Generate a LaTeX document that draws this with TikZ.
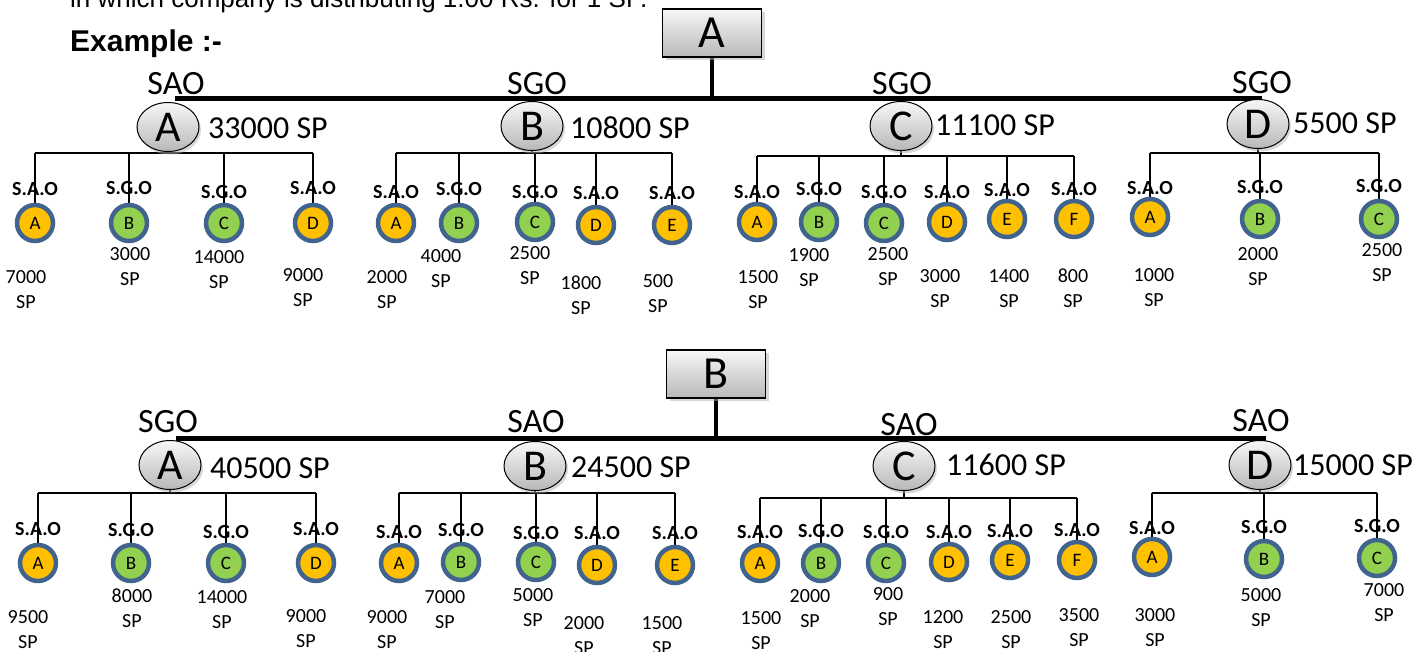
\documentclass[tikz,border=0pt]{standalone}
\usepackage{fontspec}
\setmainfont{Carlito}
\newfontfamily\arialf{Liberation Sans}
\usetikzlibrary{shapes.geometric,shadows}
\definecolor{kido}{HTML}{FFC000}
\definecolor{kidg}{HTML}{92D050}
\definecolor{kidring}{HTML}{41648E}
\pgfdeclarelayer{bg}
\pgfsetlayers{bg,main}
\tikzset{
  topbox/.style={draw=black, line width=1.2pt, minimum width=99pt, minimum height=48pt, inner sep=0pt,
    top color=black!3, bottom color=black!28,
    drop shadow={shadow xshift=3pt, shadow yshift=-3pt, fill=black!30},
    font=\fontsize{46}{46}\selectfont},
  mainell/.style={ellipse, draw=black, line width=1pt, minimum width=62pt, minimum height=49pt, inner sep=0pt,
    top color=black!3, bottom color=black!28,
    drop shadow={shadow xshift=2pt, shadow yshift=-3pt, fill=black!30},
    font=\fontsize{44}{44}\selectfont},
  kid/.style={ellipse, draw=kidring, line width=4.5pt, minimum width=36pt, minimum height=36pt, inner sep=0pt,
    font=\fontsize{19}{19}\selectfont},
  typel/.style={font=\bfseries\fontsize{20}{20}\selectfont, inner sep=0pt},
  vall/.style={align=center, font=\fontsize{20}{25}\selectfont, inner sep=0pt},
  levl/.style={font=\fontsize{34}{34}\selectfont, inner sep=0pt},
  spl/.style={font=\fontsize{32}{32}\selectfont, inner sep=0pt, anchor=west},
  conn/.style={draw=black, line width=1.3pt},
  trunk/.style={draw=black, line width=5pt},
  stem/.style={draw=black, line width=4pt}
}
\begin{document}
\begin{tikzpicture}[x=1pt,y=-1pt]
\useasboundingbox (0,0) rectangle (1415,652);

% header
\node[anchor=base west, font=\arialf\fontsize{26}{26}\selectfont, inner sep=0pt] (hdr) at (70,8) {in which company is distributing 1.00 Rs. for 1 SP.};
\node[anchor=base west, font=\arialf\bfseries\fontsize{30}{30}\selectfont, inner sep=0pt] (ex) at (70,52) {Example :-};

% ---------------- Tree A ----------------
\node[topbox] (boxA) at (712,33) {A};
\coordinate (t1L) at (175,99);
\coordinate (t1R) at (1262,99);
\node[mainell] (A1) at (168,127) {A};
\node[mainell] (B1) at (532,126) {B};
\node[mainell] (C1) at (901,126) {C};
\node[mainell] (D1) at (1258,124) {D};
\node[levl] (A1l) at (176,84) {SAO};
\node[levl] (B1l) at (537,84) {SGO};
\node[levl] (C1l) at (902,84) {SGO};
\node[levl] (D1l) at (1262,83) {SGO};
\node[spl] (A1v) at (208,128) {33000 SP};
\node[spl] (B1v) at (570,128) {10800 SP};
\node[spl] (C1v) at (935,125) {11100 SP};
\node[spl] (D1v) at (1293,123) {5500 SP};
\coordinate (b1a) at (0,153);
\coordinate (b1b) at (0,153);
\coordinate (b1c) at (0,156);
\coordinate (b1d) at (0,153);

% ---------------- Tree B ----------------
\node[topbox] (boxB) at (716,374) {B};
\coordinate (t2L) at (176,438);
\coordinate (t2R) at (1266,438);
\node[mainell] (A2) at (170,465) {A};
\node[mainell] (B2) at (535,466) {B};
\node[mainell] (C2) at (904,466) {C};
\node[mainell] (D2) at (1260,465) {D};
\node[levl] (A2l) at (168,422) {SGO};
\node[levl] (B2l) at (536,422) {SAO};
\node[levl] (C2l) at (909,425) {SAO};
\node[levl] (D2l) at (1261,421) {SAO};
\node[spl] (A2v) at (210,468) {40500 SP};
\node[spl] (B2v) at (571,467) {24500 SP};
\node[spl] (C2v) at (946,465) {11600 SP};
\node[spl] (D2v) at (1293,465) {15000 SP};
\coordinate (b2a) at (0,493);
\coordinate (b2b) at (0,493);
\coordinate (b2c) at (0,498);
\coordinate (b2d) at (0,493);

% children
\foreach \n/\x/\y/\ly/\c/\l/\t/\vx/\vy/\v in {
  p1aA/35/223/189/o/A/S.A.O/26/290/7000,
  p1aB/129/223/188/g/B/S.G.O/130/267/3000,
  p1aC/224/223/192/g/C/S.G.O/219/270/14000,
  p1aD/313/223/188/o/D/S.A.O/303/288/9000,
  p1bA/396/223/192/o/A/S.A.O/387/290/2000,
  p1bB/459/223/189/g/B/S.G.O/441/269/4000,
  p1bC/535/222/192/g/C/S.G.O/530/266/2500,
  p1bD/596/225/193/o/D/S.A.O/581/295/1800,
  p1bE/672/225/193/o/E/S.A.O/658/294/500,
  p1cA/757/222/192/o/A/S.A.O/758/290/1500,
  p1cB/819/222/189/g/B/S.G.O/809/268/1900,
  p1cC/884/223/192/g/C/S.G.O/888/267/2500,
  p1cD/947/222/192/o/D/S.A.O/940/289/3000,
  p1cE/1007/219/190/o/E/S.A.O/1009/289/1400,
  p1cF/1074/219/189/o/F/S.A.O/1073/288/800,
  p1dA/1150/217/188/o/A/S.A.O/1154/288/1000,
  p1dB/1260/219/187/g/B/S.G.O/1258/267/2000,
  p1dC/1379/219/186/g/C/S.G.O/1382/263/2500,
  p2aA/38/563/529/o/A/S.A.O/28/630/9500,
  p2aB/131/563/530/g/B/S.G.O/132/608/8000,
  p2aC/226/563/532/g/C/S.G.O/222/610/14000,
  p2aD/316/563/529/o/D/S.A.O/306/629/9000,
  p2bA/399/563/532/o/A/S.A.O/387/630/9000,
  p2bB/461/562/530/g/B/S.G.O/445/610/7000,
  p2bC/536/562/533/g/C/S.G.O/533/608/5000,
  p2bD/597/565/533/o/D/S.A.O/584/636/2000,
  p2bE/675/565/533/o/E/S.A.O/662/636/1500,
  p2cA/760/563/532/o/A/S.A.O/761/631/1500,
  p2cB/821/563/531/g/B/S.G.O/810/609/2000,
  p2cC/886/563/532/g/C/S.G.O/888/607/900,
  p2cD/949/562/532/o/D/S.A.O/943/630/1200,
  p2cE/1010/560/531/o/E/S.A.O/1011/630/2500,
  p2cF/1077/560/530/o/F/S.A.O/1079/628/3500,
  p2dA/1152/557/528/o/A/S.A.O/1155/628/3000,
  p2dB/1264/559/527/g/B/S.G.O/1261/608/5000,
  p2dC/1377/558/526/g/C/S.G.O/1384/603/7000}{
  \node[kid, fill=kid\c] (\n) at (\x,\y) {\l};
  \node[typel] (\n t) at (\x,\ly) {\t};
  \node[vall] (\n v) at (\vx,\vy) {\v\\SP};
}

\begin{pgfonlayer}{bg}
  % trunks
  \draw[trunk] (t1L) -- (t1R);
  \draw[stem] (boxA.south) -- (boxA.south |- t1L);
  \draw[trunk] (t2L) -- (t2R);
  \draw[stem] (boxB.south) -- (boxB.south |- t2L);
  % branch bars
  \draw[conn] (p1aA.north |- b1a) -- (p1aD.north |- b1a);
  \draw[conn] (p1bA.north |- b1b) -- (p1bE.north |- b1b);
  \draw[conn] (p1cA.north |- b1c) -- (p1cF.north |- b1c);
  \draw[conn] (p1dA.north |- b1d) -- (p1dC.north |- b1d);
  \draw[conn] (p2aA.north |- b2a) -- (p2aD.north |- b2a);
  \draw[conn] (p2bA.north |- b2b) -- (p2bE.north |- b2b);
  \draw[conn] (p2cA.north |- b2c) -- (p2cF.north |- b2c);
  \draw[conn] (p2dA.north |- b2d) -- (p2dC.north |- b2d);
  % parent ticks
  \draw[conn] (A1.south) -- (A1.south |- b1a);
  \draw[conn] (B1.south) -- (B1.south |- b1b);
  \draw[conn] (C1.south) -- (C1.south |- b1c);
  \draw[conn] (D1.south) -- (D1.south |- b1d);
  \draw[conn] (A2.south) -- (A2.south |- b2a);
  \draw[conn] (B2.south) -- (B2.south |- b2b);
  \draw[conn] (C2.south) -- (C2.south |- b2c);
  \draw[conn] (D2.south) -- (D2.south |- b2d);
  % child drops
  \foreach \n in {p1aA,p1aB,p1aC,p1aD}{\draw[conn] (\n.north) -- (\n.north |- b1a);}
  \foreach \n in {p1bA,p1bB,p1bC,p1bD,p1bE}{\draw[conn] (\n.north) -- (\n.north |- b1b);}
  \foreach \n in {p1cA,p1cB,p1cC,p1cD,p1cE,p1cF}{\draw[conn] (\n.north) -- (\n.north |- b1c);}
  \foreach \n in {p1dA,p1dB,p1dC}{\draw[conn] (\n.north) -- (\n.north |- b1d);}
  \foreach \n in {p2aA,p2aB,p2aC,p2aD}{\draw[conn] (\n.north) -- (\n.north |- b2a);}
  \foreach \n in {p2bA,p2bB,p2bC,p2bD,p2bE}{\draw[conn] (\n.north) -- (\n.north |- b2b);}
  \foreach \n in {p2cA,p2cB,p2cC,p2cD,p2cE,p2cF}{\draw[conn] (\n.north) -- (\n.north |- b2c);}
  \foreach \n in {p2dA,p2dB,p2dC}{\draw[conn] (\n.north) -- (\n.north |- b2d);}
\end{pgfonlayer}
\end{tikzpicture}
\end{document}
